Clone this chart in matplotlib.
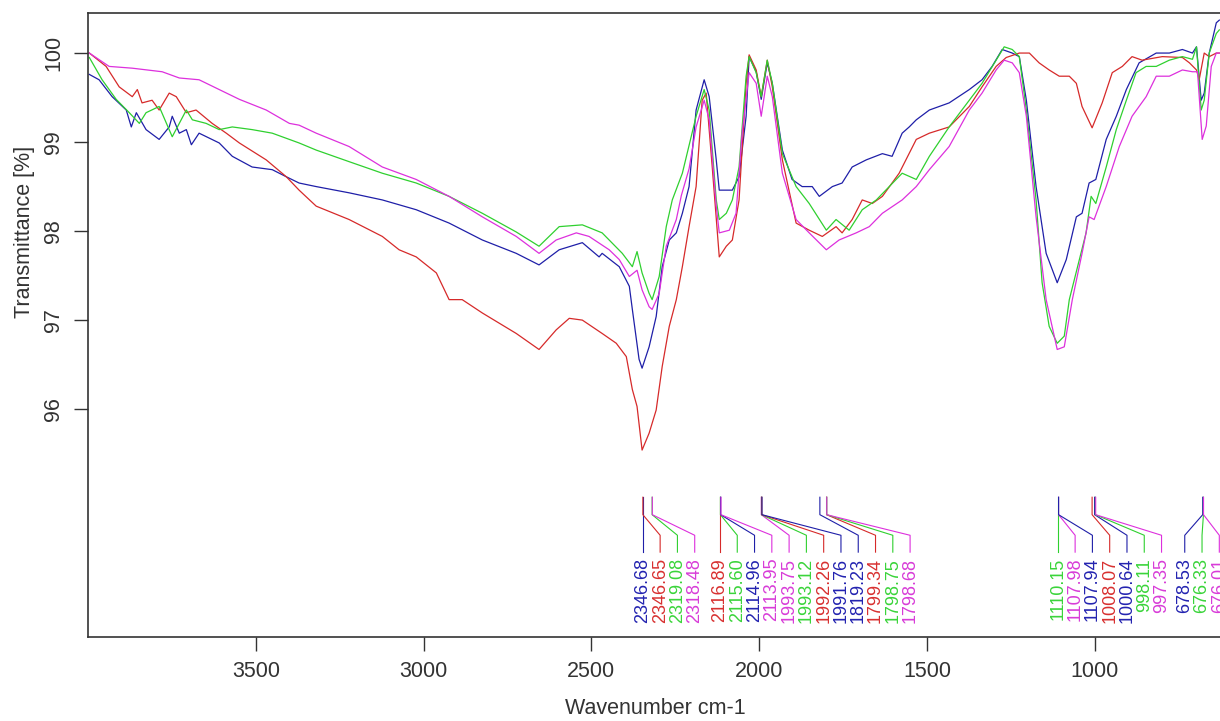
"""
FTIR transmittance spectra of four samples with labelled peaks
"""
import matplotlib
matplotlib.use("Agg")
import matplotlib.pyplot as plt
import matplotlib.transforms as mtransforms

plt.rcParams["font.family"] = ["Liberation Sans", "DejaVu Sans"]

# spectra (wavenumber cm-1, transmittance %)
wn_blue = [3996, 3967, 3928, 3886, 3871, 3856, 3827, 3788, 3758, 3749, 3728, 3707, 3692, 3669, 3609,
           3570, 3511, 3451, 3409, 3371, 3320, 3222, 3123, 3022, 2924, 2825, 2724, 2656, 2596, 2527,
           2477, 2468, 2417, 2387, 2378, 2358, 2349, 2328, 2307, 2289, 2268, 2247, 2229, 2209, 2188,
           2164, 2149, 2128, 2119, 2080, 2060, 2039, 2030, 2009, 1994, 1976, 1961, 1931, 1902, 1872,
           1842, 1821, 1782, 1753, 1723, 1681, 1633, 1604, 1574, 1553, 1532, 1493, 1434, 1374, 1336,
           1306, 1276, 1246, 1225, 1204, 1175, 1145, 1112, 1085, 1055, 1038, 1017, 997, 966, 936,
           906, 868, 817, 778, 739, 709, 697, 683, 674, 659, 638, 629]
t_blue = [99.76, 99.70, 99.51, 99.36, 99.17, 99.33, 99.14, 99.03, 99.17, 99.29, 99.10, 99.14, 98.97, 99.10, 98.99,
          98.84, 98.72, 98.69, 98.61, 98.54, 98.50, 98.43, 98.35, 98.24, 98.09, 97.90, 97.75, 97.62, 97.79, 97.87,
          97.71, 97.75, 97.60, 97.38, 97.12, 96.56, 96.46, 96.70, 97.04, 97.60, 97.90, 97.98, 98.20, 98.50, 99.36,
          99.70, 99.51, 98.80, 98.46, 98.46, 98.61, 99.29, 99.96, 99.79, 99.48, 99.89, 99.66, 98.91, 98.58, 98.50,
          98.50, 98.39, 98.50, 98.54, 98.72, 98.80, 98.87, 98.84, 99.10, 99.17, 99.25, 99.36, 99.44, 99.59, 99.70,
          99.85, 100.04, 100.0, 99.96, 99.47, 98.50, 97.75, 97.42, 97.68, 98.16, 98.20, 98.54, 98.58, 99.03, 99.29,
          99.59, 99.89, 100.0, 100.0, 100.04, 100.0, 100.07, 99.47, 99.55, 100.0, 100.34, 100.37]

wn_red = [3996, 3946, 3907, 3868, 3853, 3839, 3809, 3788, 3758, 3737, 3707, 3678, 3630, 3588, 3549,
          3469, 3409, 3371, 3320, 3222, 3123, 3073, 3022, 2962, 2924, 2885, 2825, 2724, 2656, 2605,
          2566, 2527, 2468, 2426, 2396, 2378, 2364, 2349, 2328, 2307, 2289, 2268, 2247, 2229, 2209,
          2188, 2170, 2158, 2140, 2119, 2098, 2080, 2060, 2039, 2030, 2009, 1994, 1976, 1961, 1931,
          1890, 1851, 1812, 1771, 1753, 1723, 1693, 1663, 1633, 1583, 1532, 1493, 1434, 1374, 1336,
          1294, 1264, 1225, 1195, 1166, 1136, 1106, 1076, 1055, 1038, 1008, 978, 948, 918, 889,
          859, 799, 739, 718, 697, 689, 674, 659, 638, 629]
t_red = [100.0, 99.85, 99.62, 99.51, 99.59, 99.44, 99.47, 99.36, 99.55, 99.51, 99.33, 99.36, 99.21, 99.10, 98.99,
         98.80, 98.61, 98.46, 98.28, 98.13, 97.94, 97.79, 97.71, 97.53, 97.23, 97.23, 97.08, 96.85, 96.67, 96.89,
         97.02, 97.00, 96.85, 96.74, 96.59, 96.22, 96.03, 95.54, 95.73, 95.99, 96.48, 96.93, 97.23, 97.60, 98.05,
         98.50, 99.47, 99.55, 98.72, 97.71, 97.83, 97.90, 98.35, 99.66, 99.98, 99.81, 99.51, 99.92, 99.62, 98.80,
         98.09, 98.01, 97.94, 98.05, 97.98, 98.13, 98.35, 98.31, 98.39, 98.65, 99.03, 99.10, 99.17, 99.40, 99.62,
         99.85, 99.95, 100.0, 100.0, 99.89, 99.81, 99.74, 99.74, 99.66, 99.40, 99.16, 99.44, 99.78, 99.85, 99.96,
         99.92, 99.96, 99.95, 99.89, 99.81, 99.70, 100.0, 99.96, 100.0, 100.0]

wn_green = [3996, 3958, 3916, 3877, 3847, 3827, 3788, 3749, 3707, 3689, 3648, 3609, 3570, 3511, 3451,
            3371, 3320, 3222, 3123, 3022, 2924, 2825, 2724, 2656, 2596, 2527, 2468, 2408, 2378, 2364,
            2349, 2328, 2319, 2298, 2277, 2259, 2229, 2188, 2164, 2149, 2128, 2119, 2098, 2080, 2060,
            2039, 2030, 2009, 1994, 1976, 1961, 1931, 1890, 1851, 1800, 1771, 1732, 1693, 1651, 1574,
            1532, 1493, 1434, 1374, 1336, 1294, 1270, 1246, 1225, 1204, 1175, 1157, 1136, 1112, 1091,
            1076, 1046, 1026, 1011, 997, 966, 936, 906, 877, 847, 817, 778, 739, 709, 697,
            683, 674, 659, 638, 629]
t_green = [99.95, 99.70, 99.48, 99.33, 99.21, 99.33, 99.40, 99.06, 99.36, 99.25, 99.21, 99.14, 99.17, 99.14, 99.10,
           98.99, 98.91, 98.78, 98.65, 98.54, 98.39, 98.20, 97.99, 97.83, 98.05, 98.07, 97.98, 97.75, 97.60, 97.77,
           97.53, 97.30, 97.23, 97.49, 98.05, 98.35, 98.65, 99.29, 99.59, 99.36, 98.35, 98.13, 98.20, 98.35, 98.72,
           99.74, 99.96, 99.78, 99.51, 99.92, 99.66, 98.87, 98.50, 98.31, 98.01, 98.13, 98.01, 98.24, 98.35, 98.65,
           98.58, 98.84, 99.17, 99.47, 99.66, 99.92, 100.07, 100.04, 99.96, 99.36, 98.35, 97.42, 96.93, 96.74, 96.82,
           97.23, 97.68, 97.98, 98.39, 98.31, 98.72, 99.14, 99.47, 99.78, 99.85, 99.85, 99.92, 99.96, 99.93, 100.07,
           99.36, 99.47, 100.0, 100.22, 100.26]

wn_magenta = [3996, 3937, 3868, 3779, 3728, 3669, 3609, 3549, 3469, 3400, 3371, 3320, 3222, 3123, 3022,
              2924, 2825, 2724, 2656, 2605, 2545, 2507, 2447, 2417, 2387, 2364, 2349, 2328, 2319, 2298,
              2277, 2247, 2232, 2209, 2188, 2164, 2149, 2128, 2119, 2089, 2069, 2051, 2030, 2009, 1994,
              1976, 1961, 1931, 1890, 1851, 1800, 1762, 1711, 1672, 1633, 1574, 1532, 1493, 1434, 1374,
              1336, 1294, 1270, 1246, 1225, 1204, 1175, 1145, 1112, 1091, 1067, 1038, 1017, 1002, 966,
              927, 889, 847, 817, 778, 739, 709, 694, 680, 668, 653, 638, 629]
t_magenta = [100.0, 99.85, 99.83, 99.79, 99.72, 99.70, 99.59, 99.48, 99.36, 99.21, 99.19, 99.10, 98.95, 98.72, 98.58,
             98.39, 98.16, 97.94, 97.75, 97.90, 97.98, 97.94, 97.79, 97.68, 97.49, 97.56, 97.34, 97.15, 97.12, 97.30,
             97.83, 98.13, 98.40, 98.70, 99.17, 99.47, 99.25, 98.28, 97.98, 98.01, 98.20, 99.10, 99.78, 99.66, 99.29,
             99.74, 99.51, 98.65, 98.13, 97.98, 97.79, 97.90, 97.98, 98.05, 98.20, 98.35, 98.50, 98.69, 98.95, 99.36,
             99.55, 99.81, 99.92, 99.89, 99.78, 99.29, 98.16, 97.23, 96.67, 96.70, 97.23, 97.75, 98.16, 98.13, 98.50,
             98.95, 99.29, 99.51, 99.74, 99.74, 99.81, 99.79, 99.79, 99.03, 99.18, 99.85, 100.0, 100.0]

# picked peaks, in the order they are labelled
peak_wn = [2346.68, 2346.65, 2319.08, 2318.48,
           2116.89, 2115.60, 2114.96, 2113.95,
           1993.75, 1993.12, 1992.26, 1991.76,
           1819.23, 1799.34, 1798.75, 1798.68,
           1110.15, 1107.98, 1107.94, 1008.07, 1000.64, 998.11, 997.35,
           678.53, 676.33, 676.01]
peak_series = ["blue", "red", "green", "magenta",
               "red", "green", "blue", "magenta",
               "magenta", "green", "red", "blue",
               "blue", "red", "green", "magenta",
               "green", "magenta", "blue", "red", "blue", "green", "magenta",
               "blue", "green", "magenta"]

line_colors = {"blue": "#1f1fa8", "red": "#d62a2a", "green": "#2fd02f", "magenta": "#dd30dd"}
text_colors = {"blue": "#2323b0", "red": "#d83030", "green": "#3ad43a", "magenta": "#d83cd8"}

fig = plt.figure(figsize=(12.2, 7.21), dpi=100)
ax = fig.add_axes([88 / 1220, 84 / 721, 1134 / 1220, 624 / 721])

spectra = [("blue", wn_blue, t_blue), ("red", wn_red, t_red),
           ("green", wn_green, t_green), ("magenta", wn_magenta, t_magenta)]
for name, wn, t in spectra:
    ax.plot(wn, t, color=line_colors[name], lw=0.9)

ax.set_xlim(4000, 621)
ax.set_ylim(93.44, 100.45)
ax.set_xticks([3500, 3000, 2500, 2000, 1500, 1000])
ax.set_yticks([96, 97, 98, 99, 100])
ax.tick_params(axis="both", direction="out", length=10, width=1.0, color="#333333",
               labelsize=15.5, labelcolor="#333333", pad=7)
for lab in ax.get_yticklabels():
    lab.set_rotation(90)
    lab.set_va("center")
for sp in ax.spines.values():
    sp.set_linewidth(1.2)
    sp.set_color("#333333")

ax.set_xlabel("Wavenumber cm-1", fontsize=15.5, color="#333333")
ax.xaxis.set_label_coords(0.5, -0.115)
ax.xaxis.label.set_va("center")
ax.set_ylabel("Transmittance [%]", fontsize=15.5, color="#333333")
ax.yaxis.set_label_coords(-0.0556, 0.649)
ax.yaxis.label.set_va("center")

# spread the peak labels so they don't overlap
gap = 51.5
right_lim = 629
label_wn = list(peak_wn)
for i in range(1, len(label_wn)):
    label_wn[i] = min(peak_wn[i], label_wn[i - 1] - gap)
label_wn[-1] = max(label_wn[-1], right_lim)
for i in range(len(label_wn) - 2, -1, -1):
    label_wn[i] = max(label_wn[i], label_wn[i + 1] + gap)

trans = mtransforms.blended_transform_factory(ax.transData, ax.transAxes)
y0, y1, y2, y3, ytext = 0.224, 0.196, 0.163, 0.136, 0.127
for p, lw_, s in zip(peak_wn, label_wn, peak_series):
    ax.plot([p, p, lw_, lw_], [y0, y1, y2, y3], color=line_colors[s], lw=0.8,
            transform=trans, clip_on=False)
    ax.text(lw_, ytext, f"{p:.2f}", rotation=90, ha="center", va="top",
            fontsize=13, color=text_colors[s], transform=trans, clip_on=False)

fig.savefig("out.png", dpi=100)
